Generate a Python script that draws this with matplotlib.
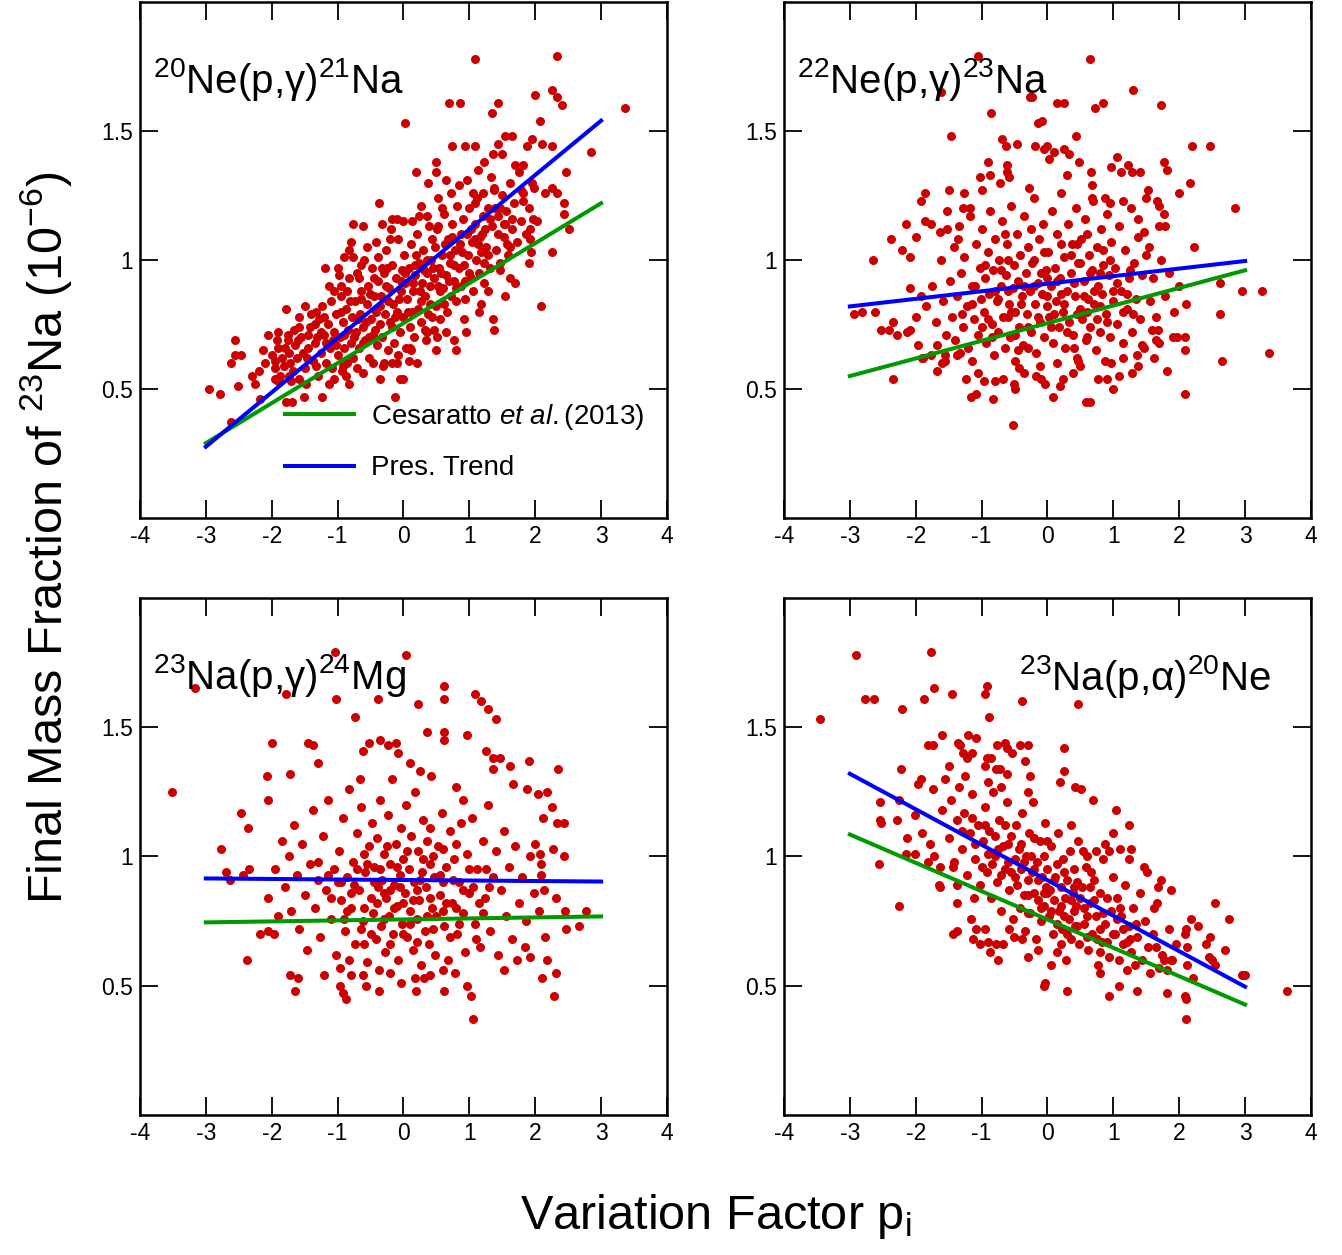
import numpy as np
import matplotlib.pyplot as plt

plt.rcParams['font.family'] = ['Liberation Sans', 'DejaVu Sans']
plt.rcParams['mathtext.fontset'] = 'custom'
plt.rcParams['mathtext.rm'] = 'Liberation Sans'
plt.rcParams['mathtext.it'] = 'Liberation Sans:italic'
plt.rcParams['mathtext.default'] = 'regular'

# scatter points (variation factor p_i, final X(23Na) in 1e-6)
ne20_pts = [
    (1.08,1.78),(2.33,1.79),(0.03,1.53),(0.69,1.61),(0.86,1.61),(1.43,1.61),(1.34,1.57),(1.99,1.64),(2.26,1.66),(2.33,1.63),
    (2.40,1.60),(3.36,1.59),(2.08,1.54),(2.85,1.42),(2.46,1.34),(2.26,1.03),(2.09,0.82),(2.52,1.12),(2.44,1.22),(2.44,1.18),
    (2.15,1.26),(2.26,1.28),(2.33,1.26),(1.90,0.99),(1.54,0.86),(1.36,0.77),(1.38,0.73),(0.79,0.65),(0.77,0.69),(-0.13,0.47),
    (-0.05,0.54),(0.00,0.54),(-0.36,0.54),(-0.82,0.52),(-1.23,0.47),(-1.51,0.47),(-1.69,0.45),(-1.79,0.45),(-2.18,0.46),(-2.26,0.52),
    (-2.51,0.51),(-2.62,0.37),(-2.95,0.50),(-2.78,0.48),(-2.62,0.60),(-2.56,0.63),(-2.47,0.63),(-2.56,0.69),(-2.05,0.71),(-2.13,0.65),
    (-1.78,0.81),(-1.90,0.72),(-1.19,0.97),(-1.00,0.97),(-0.77,1.14),(-0.62,1.13),(-0.79,1.07),(-0.82,1.04),(-0.37,1.22),(-0.18,1.16),
    (0.19,1.34),(0.49,1.38),(0.49,1.34),(0.37,1.30),(0.52,1.24),(0.74,1.44),(0.93,1.44),(1.08,1.44),(1.54,1.48),(1.64,1.48),
    (1.95,1.47),(1.87,1.44),(2.10,1.45),(2.26,1.44),(1.44,1.45),(1.36,1.41),(1.49,1.41),(1.69,1.37),(1.82,1.37),(1.23,1.38),
    (1.13,1.35),(1.95,1.30),(1.79,1.27),(1.97,1.16),(1.92,1.12),(1.92,1.08),(1.82,1.23),(1.64,1.16),(1.62,1.05),(1.62,0.93),
    (1.69,0.91),(1.46,0.96),(1.28,0.88),(1.18,0.83),(1.15,0.80),(0.95,0.72),(0.92,0.77),(0.64,0.72),(0.51,0.70),(0.50,0.65),
    (0.36,0.72),(0.21,0.60),(0.09,0.61),(0.10,0.66),(-0.10,0.60),(-0.18,0.60),(-0.31,0.59),(-0.62,0.56),(-0.87,0.55),(-1.05,0.54),
    (-1.13,0.52),(-0.92,0.59),(-1.33,0.59),(-1.46,0.62),(-1.59,0.54),(-1.74,0.55),(-1.95,0.54),(-1.90,0.53),(-1.95,0.61),
    (-1.92,0.69),(-1.75,0.71),(-1.59,0.74),(-1.49,0.82),(-1.23,0.82),(-1.33,0.80),(-1.05,0.88),(-0.95,0.90),(-0.90,1.01),(-0.77,1.01),
    (-0.64,0.98),(-0.41,1.07),(-0.33,1.14),(-0.21,1.08),(-0.10,1.16),(0.00,1.15),(0.13,1.15),(0.27,1.21),(0.36,1.17),(0.51,1.12),
    (0.59,1.20),(0.64,1.31),(0.72,1.26),(0.85,1.29),(0.96,1.31),(1.05,1.26),(1.08,1.22),(1.21,1.26),(1.33,1.32),(1.38,1.27),
    (1.46,1.20),(1.54,1.14),
    (-1.62,0.62),(-1.55,0.70),(-1.50,0.58),(-1.45,0.66),(-1.42,0.74),(-1.38,0.61),(-1.35,0.68),(-1.30,0.55),(-1.28,0.77),(-1.25,0.64),
    (-1.21,0.71),(-1.18,0.60),(-1.65,0.67),(-1.72,0.60),(-1.80,0.66),(-1.85,0.62),(-1.70,0.53),(-1.58,0.78),(-1.48,0.52),(-1.40,0.79),
    (-1.15,0.75),(-1.12,0.66),(-1.10,0.84),(-1.08,0.58),(-1.05,0.72),(-1.02,0.79),(-1.00,0.63),(-0.97,0.70),(-0.95,0.86),(-0.92,0.76),
    (-0.90,0.66),(-0.88,0.81),(-0.86,0.60),(-0.84,0.73),(-0.82,0.93),(-0.80,0.68),(-0.78,0.78),(-0.76,0.62),(-1.13,0.90),(-0.98,0.94),
    (-1.07,0.69),(-0.93,0.57),
    (-0.74,0.84),(-0.72,0.72),(-0.70,0.95),(-0.68,0.66),(-0.66,0.79),(-0.64,0.88),(-0.62,0.74),(-0.60,1.00),(-0.58,0.69),(-0.56,0.83),
    (-0.54,0.90),(-0.52,0.62),(-0.50,0.77),(-0.48,0.97),(-0.46,0.71),(-0.44,0.86),(-0.42,0.80),(-0.40,0.67),(-0.38,0.92),(-0.36,0.75),
    (-0.71,0.58),(-0.55,1.05),(-0.47,0.60),(-0.39,1.01),
    (-0.34,0.86),(-0.32,0.70),(-0.30,0.95),(-0.28,0.79),(-0.26,1.04),(-0.24,0.65),(-0.22,0.89),(-0.20,0.76),(-0.18,0.98),(-0.16,0.83),
    (-0.14,0.68),(-0.12,0.93),(-0.10,0.80),(-0.08,1.08),(-0.06,0.72),(-0.04,0.88),(-0.02,0.96),(0.00,0.78),(0.02,0.91),(0.04,0.66),
    (-0.29,0.60),(-0.19,1.12),(-0.09,0.63),(0.01,1.02),
    (0.06,0.85),(0.08,0.97),(0.10,0.74),(0.12,1.06),(0.14,0.88),(0.16,0.70),(0.18,0.94),(0.20,1.10),(0.22,0.81),(0.24,0.99),
    (0.26,0.76),(0.28,0.91),(0.30,1.04),(0.32,0.86),(0.34,0.69),(0.36,0.95),(0.38,1.13),(0.40,0.83),(0.42,1.00),(0.44,0.78),
    (0.11,0.65),(0.23,1.17),(0.33,0.73),(0.43,1.08),
    (0.46,0.93),(0.48,1.05),(0.50,0.82),(0.52,1.13),(0.54,0.97),(0.56,0.77),(0.58,1.02),(0.60,0.89),(0.62,1.18),(0.64,0.94),
    (0.66,0.80),(0.68,1.08),(0.70,0.99),(0.72,0.86),(0.74,1.14),(0.76,0.92),(0.78,1.04),(0.80,0.84),(0.82,1.21),(0.84,0.97),
    (0.86,1.06),(0.88,0.90),(0.90,1.16),(0.92,0.98),(0.94,0.85),(0.96,1.10),(0.98,1.02),(1.00,1.20),(1.02,0.93),(1.04,1.07),
    (1.06,0.88),(1.08,1.14),(1.10,1.00),(1.12,1.24),(1.14,0.95),(1.16,1.09),(1.18,1.03),(1.20,1.17),(1.22,0.91),(1.24,1.12),
    (1.26,1.05),(1.29,1.20),(1.32,0.97),(1.35,1.13),(1.38,1.28),(1.41,1.04),(1.44,1.17),(1.47,0.99),(1.50,1.25),(1.53,1.09),
    (1.56,1.19),(1.59,1.02),(1.62,1.30),(1.65,1.12),(1.68,1.22),(1.72,1.07),(1.75,1.34),(1.78,1.15),(1.82,1.26),(1.86,1.10),
    (1.90,1.20),(1.94,1.03),(1.98,1.28),(2.02,1.15),
    (-2.00,0.63),(-1.95,0.58),(-1.90,0.66),(-1.88,0.55),(-1.82,0.59),(-1.76,0.69),(-1.74,0.64),(-1.68,0.57),(-1.66,0.73),(-1.60,0.69),
    (-2.10,0.60),(-2.20,0.57),(-2.30,0.55),
    (-0.95,0.80),(-0.85,0.88),(-0.75,0.70),(-0.65,0.85),(-0.57,0.76),(-0.45,0.93),(-0.35,0.82),(-0.27,0.90),(-0.17,0.74),(-0.07,0.85),
    (0.03,0.95),(0.13,0.80),(0.19,1.02),(0.27,0.84),(0.35,1.00),(0.41,0.90),(0.47,0.73),(0.55,0.88),(0.63,1.06),(0.69,0.92),
    (0.77,0.98),(0.87,1.10),(0.93,0.92),(1.03,1.12),(1.13,1.06),(1.23,0.99),(1.31,1.16),(1.43,1.10),(-1.25,0.72),(-1.35,0.75),
    (-1.45,0.71),(-1.17,0.68),(-0.67,0.93),(0.57,0.95),(0.73,1.09),(-0.25,0.97),(0.15,0.91),(0.31,0.96),(-0.53,0.70),(1.52,1.14),
    (-1.52,0.64),(-1.32,0.70),(-1.20,0.78),(-1.03,0.67),(-0.91,0.71),(-0.81,0.84),(-0.69,0.77),(-0.61,0.68),(-0.51,0.87),(-0.43,0.73),
    (-0.33,0.97),(-0.23,0.84),(-0.13,0.78),(-0.03,0.92),(0.07,0.80),(0.17,0.98),(0.25,0.88),(0.37,0.79),(0.45,0.97),(0.53,0.90),
    (0.61,0.83),(0.71,1.02),(0.79,0.89),(0.89,1.03),(0.99,0.95),(1.09,1.08),(1.19,1.10),(1.29,1.02),(1.39,1.20),(1.57,1.06),
]

ne22_pts = [
    (-1.05,1.79),(0.65,1.78),(-1.62,1.65),(-0.23,1.63),(-0.26,1.63),(0.14,1.61),(0.25,1.61),(0.85,1.61),(0.72,1.59),(1.30,1.66),
    (1.72,1.60),(-0.86,1.57),(-0.14,1.53),(-0.08,1.54),(-1.46,1.48),(0.43,1.48),(-0.69,1.47),(-0.63,1.44),(-0.46,1.45),(-0.19,1.44),
    (0.00,1.44),(-0.05,1.43),(0.10,1.42),(0.03,1.39),(0.25,1.43),(0.33,1.41),(0.48,1.38),(2.19,1.44),(2.47,1.44),(1.77,1.38),
    (1.81,1.35),(2.16,1.30),(1.99,1.26),(2.85,1.20),(2.22,1.05),(2.62,0.91),(2.96,0.88),(3.26,0.88),(2.62,0.79),(3.37,0.64),
    (2.65,0.61),(2.08,0.48),(1.81,0.57),(-0.52,0.36),(0.59,0.45),(0.64,0.45),(0.09,0.47),(-0.82,0.46),(-1.16,0.47),(-1.08,0.48),
    (-2.35,0.54),(-2.65,1.00),(-2.93,0.79),(-2.82,0.80),(-2.62,0.80),(-2.52,0.73),(-2.41,0.73),(-2.35,0.76),(-2.28,0.71),(-2.37,1.08),
    (-2.21,1.04),(-2.15,1.14),(-2.08,1.01),(-2.00,1.09),(-1.92,1.23),(-1.86,1.26),(-1.86,1.15),(-1.77,1.14),(-1.92,0.86),(-2.09,0.89),
    (-2.00,0.78),(-2.13,0.72),(-2.08,0.73),(-1.96,0.67),(-1.90,0.62),(-1.67,0.57),
    (-1.50,1.27),(-1.26,1.26),(-1.03,1.32),(-0.87,1.33),(-0.91,1.38),(-0.72,1.30),(-0.61,1.34),(-0.58,1.32),(-0.61,1.37),(-0.99,1.27),
    (-1.28,1.20),(-1.18,1.20),(-1.52,1.19),(-1.63,1.11),(-1.52,1.12),(-1.36,1.08),(0.97,1.36),(1.05,1.40),(1.12,1.34),(1.22,1.37),
    (1.28,1.34),(1.40,1.34),(1.53,1.27),(1.49,1.24),(1.66,1.23),(1.69,1.21),(1.77,1.18),(1.70,1.13),(1.78,1.13),(1.54,1.05),
    (1.38,1.16),(1.46,1.11),(1.14,1.23),(0.95,1.22),(0.68,1.29),(0.68,1.24),(0.87,1.24),(0.66,1.34),
    (1.90,0.70),(1.96,0.70),(2.08,0.70),(1.64,0.69),(1.69,0.68),(1.59,0.73),(1.67,0.73),(2.08,0.65),(1.62,0.62),(1.44,0.67),
    (1.36,0.63),(1.38,0.59),(1.28,0.56),(1.15,0.62),(1.08,0.55),(0.99,0.50),(0.96,0.60),(0.77,0.54),(0.90,0.54),(0.46,0.61),
    (0.50,0.59),(0.38,0.56),(0.23,0.54),(0.19,0.51),(-0.04,0.52),(-0.10,0.54),(-0.18,0.55),(-0.36,0.56),(-0.51,0.52),(-0.49,0.50),
    (-0.67,0.54),(-0.79,0.53),(-0.97,0.53),(-1.06,0.56),(-1.23,0.54),(-1.15,0.61),(-1.33,0.64),(-1.37,0.63),(-1.56,0.61),(-1.60,0.60),
    (-1.77,0.63),(-1.89,0.62),(-1.67,0.67),(-1.54,0.71),
    (-1.48,0.92),(-1.45,0.78),(-1.42,1.05),(-1.40,0.69),(-1.37,0.86),(-1.34,1.13),(-1.31,0.95),(-1.28,0.74),(-1.26,1.01),(-1.22,0.82),
    (-1.20,0.66),(-1.17,1.17),(-1.14,0.90),(-1.11,0.77),(-1.08,1.06),(-1.05,0.71),(-1.03,0.97),(-1.01,0.85),(-1.58,0.84),(-1.62,1.00),
    (-1.70,0.76),(-1.75,0.90),(-1.84,0.82),(-1.55,0.63),
    (-0.99,1.12),(-0.97,0.80),(-0.95,0.93),(-0.93,0.68),(-0.91,1.03),(-0.89,0.87),(-0.87,1.19),(-0.85,0.75),(-0.83,0.96),(-0.81,0.63),
    (-0.79,1.08),(-0.77,0.84),(-0.75,0.72),(-0.73,1.00),(-0.71,0.90),(-0.69,1.15),(-0.67,0.78),(-0.65,0.66),(-0.63,0.94),(-0.61,1.06),
    (-0.59,0.83),(-0.57,0.70),(-0.55,1.21),(-0.53,0.89),(-0.51,0.98),(-0.50,0.61),
    (-0.49,0.80),(-0.47,1.10),(-0.45,0.92),(-0.43,0.74),(-0.41,1.02),(-0.39,0.86),(-0.37,0.67),(-0.35,1.17),(-0.33,0.95),(-0.31,0.79),
    (-0.29,1.05),(-0.27,0.88),(-0.25,0.72),(-0.23,0.99),(-0.21,1.24),(-0.19,0.83),(-0.17,0.64),(-0.15,0.91),(-0.13,1.08),(-0.11,0.76),
    (-0.09,0.87),(-0.07,1.14),(-0.05,0.70),(-0.03,0.96),(-0.01,0.82),(-0.44,0.58),(-0.28,1.28),(-0.12,0.59),
    (0.01,1.03),(0.03,0.78),(0.05,0.90),(0.07,1.19),(0.09,0.68),(0.11,0.97),(0.13,0.84),(0.15,1.10),(0.17,0.74),(0.19,0.93),
    (0.21,1.26),(0.23,0.80),(0.25,1.01),(0.27,0.66),(0.29,0.88),(0.31,1.14),(0.33,0.76),(0.35,0.95),(0.37,1.06),(0.39,0.71),
    (0.41,0.86),(0.43,1.20),(0.45,0.62),(0.47,0.99),(0.49,0.81),(0.14,0.60),(0.30,1.33),
    (0.51,1.08),(0.53,0.77),(0.55,0.92),(0.57,1.16),(0.59,0.69),(0.61,0.85),(0.63,1.02),(0.65,0.74),(0.67,0.96),(0.69,1.23),
    (0.71,0.83),(0.73,0.65),(0.75,1.05),(0.77,0.90),(0.79,0.72),(0.81,1.12),(0.83,0.87),(0.85,0.98),(0.87,0.61),(0.89,0.79),
    (0.91,1.18),(0.93,0.94),(0.95,0.70),(0.97,1.07),(0.99,0.84),
    (1.02,0.97),(1.05,0.75),(1.08,1.13),(1.11,0.88),(1.14,0.68),(1.17,1.04),(1.20,0.81),(1.23,0.93),(1.26,1.20),(1.29,0.72),
    (1.32,0.99),(1.35,0.85),(1.38,1.09),(1.41,0.77),(1.44,0.94),(1.47,0.66),(1.50,1.02),(1.55,0.84),(1.60,0.93),(1.65,0.78),
    (1.72,1.00),(1.78,0.86),(1.85,0.95),(1.92,0.80),(2.00,0.90),(2.10,0.83),
    (-0.80,0.88),(-0.60,0.78),(-0.40,0.83),(-0.20,0.90),(0.00,0.86),(0.20,0.87),(0.40,0.91),(0.60,0.80),(0.80,0.95),(1.00,0.88),
    (-0.70,0.96),(-0.30,0.74),(0.10,0.79),(0.50,0.99),(0.90,0.76),(-1.10,0.90),(-0.50,0.71),(0.30,0.72),(0.70,0.88),(1.20,0.87),
    (-0.90,0.77),(-0.10,0.95),(0.60,1.10),(-0.60,1.00),(1.30,0.79),(-1.30,0.79),(0.95,1.00),(-0.25,1.12),(0.45,1.06),(-0.45,0.65),
    (-1.15,0.83),(-0.95,0.98),(-0.85,0.70),(-0.75,0.85),(-0.65,1.10),(-0.55,0.80),(-0.35,0.90),(-0.15,0.78),(-0.05,1.03),(0.05,0.74),
    (0.15,0.92),(0.25,0.83),(0.35,1.02),(0.45,0.79),(0.55,0.86),(0.65,0.95),(0.75,0.77),(0.85,1.04),(1.05,0.91),(1.15,0.80),
    (-0.20,1.00),(0.40,0.66),(-0.60,0.88),(0.20,1.06),(0.80,0.82),(-1.00,0.74),(1.25,0.96),(-0.30,0.66),(0.60,0.70),(0.00,0.93),
]

na23pg_pts = [
    (-3.51,1.25),(-3.17,1.65),(-1.78,1.63),(-1.04,1.79),(0.04,1.78),(-1.02,1.61),(-0.38,1.61),(0.22,1.59),(-0.73,1.54),(0.61,1.66),
    (0.61,1.61),(1.09,1.63),(1.18,1.60),(1.28,1.57),(1.41,1.53),(-2.00,1.44),(-1.45,1.44),(-1.38,1.43),(-1.30,1.36),(0.35,1.48),
    (0.61,1.48),(0.61,1.45),(0.96,1.47),(-0.35,1.45),(-0.23,1.43),(-0.12,1.44),(-0.08,1.40),(-0.52,1.44),(-0.61,1.41),(-2.07,1.31),
    (-1.73,1.32),(-2.05,1.22),(-2.47,1.17),(-2.36,1.11),(-2.77,1.03),(-2.69,0.94),(-2.63,0.91),(-2.44,0.93),(-2.34,0.95),(-2.38,0.60),
    (-2.18,0.70),(-2.06,0.71),(-1.96,0.70),(1.26,1.41),(1.36,1.38),(1.46,1.38),(1.36,1.34),(1.62,1.35),(1.90,1.37),(1.66,1.28),
    (1.88,1.26),(2.04,1.24),(2.18,1.25),(2.35,1.34),(2.26,1.19),(2.12,1.15),(2.33,1.13),(2.44,1.13),(2.27,1.03),(2.44,1.00),
    (1.99,1.05),(2.08,1.01),(2.09,0.97),(2.09,0.93),(2.14,0.87),(2.32,0.84),(2.45,0.79),(2.77,0.79),(2.47,0.72),(2.66,0.73),
    (2.15,0.69),(1.92,0.61),(2.18,0.60),(2.11,0.53),(2.31,0.55),(2.28,0.46),(1.05,0.37),(1.03,0.46),(0.97,0.50),(0.62,0.48),
    (0.19,0.48),(-0.37,0.48),(-0.57,0.50),(-0.96,0.50),(-0.92,0.47),(-0.88,0.45),(-1.65,0.48),(-1.72,0.54),(-1.60,0.53),(-1.21,0.54),
    (-0.79,0.54),(-0.62,0.54),(-0.04,0.51),(0.18,0.53),(0.31,0.53),(0.40,0.54),(1.53,0.56),(1.85,0.65),(1.73,0.60),
    (-1.80,0.88),(-1.74,1.00),(-1.70,0.79),(-1.66,1.12),(-1.62,0.93),(-1.58,0.72),(-1.54,1.05),(-1.50,0.85),(-1.46,0.64),(-1.42,0.97),
    (-1.38,1.18),(-1.34,0.80),(-1.30,0.91),(-1.26,0.69),(-1.22,1.08),(-1.18,0.87),(-1.14,1.22),(-1.10,0.76),(-1.06,0.95),(-1.02,0.62),
    (-1.90,0.77),(-1.95,0.95),(-2.05,0.84),(-1.85,1.06),
    (-0.98,1.02),(-0.95,0.83),(-0.92,1.15),(-0.89,0.71),(-0.86,0.92),(-0.83,1.26),(-0.80,0.80),(-0.77,0.98),(-0.74,0.66),(-0.71,1.09),
    (-0.68,0.87),(-0.65,1.19),(-0.62,0.75),(-0.59,0.94),(-0.56,0.59),(-0.53,1.04),(-0.50,0.84),(-0.97,0.57),(-0.82,0.60),(-0.66,1.30),
    (-0.48,1.13),(-0.46,0.78),(-0.44,0.96),(-0.42,0.68),(-0.40,1.07),(-0.38,0.88),(-0.36,1.22),(-0.34,0.73),(-0.32,0.91),(-0.30,1.01),
    (-0.28,0.63),(-0.26,0.84),(-0.24,1.16),(-0.22,0.77),(-0.20,0.97),(-0.18,1.30),(-0.16,0.70),(-0.14,0.89),(-0.12,1.05),(-0.10,0.81),
    (-0.08,0.60),(-0.06,0.93),(-0.04,1.11),(-0.02,0.74),(-0.37,0.56),(-0.20,0.55),
    (0.00,0.99),(0.02,0.86),(0.04,1.20),(0.06,0.69),(0.08,0.95),(0.10,0.79),(0.12,1.08),(0.14,0.64),(0.16,0.90),(0.18,1.25),
    (0.20,0.76),(0.22,1.02),(0.24,0.83),(0.26,0.58),(0.28,0.94),(0.30,1.14),(0.32,0.71),(0.34,0.88),(0.36,1.06),(0.38,0.66),
    (0.40,0.97),(0.42,1.31),(0.44,0.80),(0.46,0.92),(0.48,0.62),(0.10,1.36),(0.25,1.33),
    (0.52,1.04),(0.55,0.85),(0.58,1.17),(0.61,0.73),(0.64,0.96),(0.67,0.60),(0.70,1.10),(0.73,0.82),(0.76,0.99),(0.79,1.27),
    (0.82,0.70),(0.85,0.90),(0.88,1.13),(0.91,0.78),(0.94,0.63),(0.97,1.01),(1.00,0.86),(0.60,0.56),(0.78,0.55),(0.90,1.22),
    (1.04,1.15),(1.08,0.74),(1.12,0.95),(1.16,0.65),(1.20,1.06),(1.24,0.84),(1.28,1.20),(1.32,0.71),(1.36,0.92),(1.40,1.02),
    (1.44,0.62),(1.48,0.87),(1.52,1.10),(1.56,0.77),(1.60,0.96),(1.65,0.68),(1.70,1.04),(1.75,0.82),(1.80,0.92),(1.86,0.75),
    (1.92,1.00),(1.98,0.86),(2.05,0.79),
    (-0.80,0.86),(-0.60,0.80),(-0.40,0.82),(-0.20,0.87),(0.00,0.82),(0.20,0.87),(0.40,0.84),(0.60,0.90),(0.80,0.80),(1.00,0.95),
    (-0.70,0.95),(-0.30,0.76),(0.10,0.74),(0.50,0.77),(0.90,0.87),(-1.10,0.84),(-0.50,0.70),(0.30,0.99),(0.70,0.69),(1.20,0.78),
    (-0.90,0.76),(-0.10,0.96),(0.60,1.03),(-0.60,1.01),(1.30,0.88),(-1.30,0.98),(1.10,0.68),(-0.25,1.04),(0.45,0.72),(-0.45,0.90),
    (-1.15,0.93),(-0.95,0.90),(-0.85,0.79),(-0.75,0.89),(-0.65,0.72),(-0.55,0.97),(-0.35,0.95),(-0.15,0.80),(-0.05,0.88),(0.05,1.02),
    (0.15,0.83),(0.25,0.91),(0.35,0.77),(0.45,1.00),(0.55,0.93),(0.65,0.82),(0.75,0.91),(0.85,0.74),(1.05,0.88),(1.15,0.82),
    (-0.20,0.66),(0.40,1.11),(-0.60,0.66),(0.20,0.67),(0.80,1.05),(-1.00,0.90),(1.25,0.95),(-0.30,0.86),(0.60,0.79),(0.00,0.70),
]

na23pa_pts = [
    (-3.45,1.53),(-2.91,1.78),(-1.77,1.79),(-2.77,1.61),(-2.63,1.61),(-2.21,1.57),(-1.87,1.61),(-1.72,1.65),(-1.45,1.63),(-0.95,1.63),
    (-0.92,1.66),(-0.89,1.54),(-0.38,1.60),(0.47,1.59),(-1.60,1.47),(-1.21,1.47),(-1.09,1.46),(-1.82,1.43),(-1.74,1.43),(-1.36,1.44),
    (-1.33,1.43),(-1.28,1.40),(-1.15,1.40),(-1.22,1.38),(-0.77,1.43),(-0.64,1.44),(-0.62,1.42),(-0.42,1.43),(-0.30,1.43),(-0.54,1.40),
    (-0.92,1.38),(-0.86,1.38),(-0.95,1.35),(-0.78,1.34),(-0.72,1.34),(-0.34,1.37),(-0.27,1.31),(-0.62,1.32),(0.25,1.42),(0.25,1.33),
    (0.19,1.29),(0.42,1.27),(0.51,1.26),(0.69,1.22),(1.04,1.18),(1.24,1.12),(1.00,1.09),(-2.23,1.34),(-1.96,1.28),(-1.92,1.30),
    (-1.74,1.26),(-2.55,1.21),(-2.26,1.22),(-2.55,1.14),(-2.53,1.13),(-2.29,1.14),(-2.01,1.16),(-2.14,1.07),(-2.15,1.01),(-2.01,1.01),
    (-2.56,0.97),(-2.26,0.81),(-1.91,1.09),(-1.79,1.05),(-1.82,0.98),(-1.72,1.00),(-1.63,0.96),(-1.65,0.89),(-1.63,0.88),(-1.44,0.96),
    (-1.37,0.89),(-1.37,0.82),(-1.44,0.70),(-1.37,0.71),(-1.16,0.76),(-1.13,0.68),(-1.03,0.66),(-1.09,0.72),(-0.95,0.72),(-0.91,0.67),
    (-0.87,0.63),(-0.75,0.60),(-0.78,0.66),(-0.67,0.66),(-0.51,0.69),(-0.38,0.68),(-0.30,0.61),(-0.05,0.50),(-0.04,0.51),(0.29,0.48),
    (0.93,0.46),(1.08,0.50),(1.36,0.48),(1.81,0.47),(2.08,0.46),(2.10,0.45),(2.10,0.37),(3.63,0.48),(2.21,0.53),(2.95,0.54),
    (3.00,0.54),(2.54,0.58),(2.49,0.60),(2.45,0.61),(2.46,0.69),(2.41,0.66),(2.69,0.64),(2.28,0.73),(2.54,0.82),(2.76,0.76),
    (2.18,0.76),(2.11,0.72),(2.09,0.70),(1.85,0.72),(2.12,0.65),(1.95,0.66),(2.12,0.58),(1.87,0.60),(1.89,0.60),(1.74,0.62),
    (1.77,0.60),(1.69,0.57),(1.81,0.56),(1.64,0.65),(1.87,0.87),(1.72,0.91),(1.67,0.88),(1.66,0.82),(1.61,0.80),(1.46,0.96),
    (1.51,0.94),(1.26,1.03),(1.23,0.99),(1.10,1.03),(0.94,1.02),(0.87,1.05),(0.74,1.02),(0.54,1.02),(0.66,0.94),
    (-1.60,1.18),(-1.55,1.30),(-1.50,1.07),(-1.46,1.22),(-1.42,0.98),(-1.38,1.14),(-1.34,1.27),(-1.30,1.03),(-1.26,1.17),(-1.22,0.93),
    (-1.18,1.09),(-1.14,1.24),(-1.10,0.99),(-1.06,1.12),(-1.02,0.89),(-1.50,1.35),(-1.25,1.31),(-1.12,0.84),
    (-0.98,1.06),(-0.95,1.19),(-0.92,0.94),(-0.89,1.10),(-0.86,0.84),(-0.83,1.25),(-0.80,1.00),(-0.77,0.90),(-0.74,1.14),(-0.71,0.79),
    (-0.68,1.04),(-0.65,0.95),(-0.62,1.21),(-0.59,0.87),(-0.56,1.08),(-0.53,0.76),(-0.50,0.99),(-0.90,1.29),(-0.70,1.27),(-0.58,0.72),
    (-0.48,1.12),(-0.46,0.89),(-0.44,1.03),(-0.42,0.80),(-0.40,0.95),(-0.38,1.17),(-0.36,0.85),(-0.34,0.71),(-0.32,1.00),(-0.30,0.91),
    (-0.28,1.09),(-0.26,0.78),(-0.24,0.94),(-0.22,1.21),(-0.20,0.86),(-0.18,0.68),(-0.16,0.98),(-0.14,0.83),(-0.12,1.06),(-0.10,0.75),
    (-0.08,0.92),(-0.06,0.81),(-0.04,1.13),(-0.02,0.88),(-0.15,0.64),(-0.30,1.25),
    (0.00,0.95),(0.02,0.77),(0.04,0.87),(0.06,1.04),(0.08,0.70),(0.10,0.83),(0.12,0.92),(0.14,0.63),(0.16,1.09),(0.18,0.79),
    (0.20,0.88),(0.22,0.72),(0.24,0.99),(0.26,0.84),(0.28,0.60),(0.30,0.91),(0.32,0.76),(0.34,1.02),(0.36,0.68),(0.38,0.86),
    (0.40,0.95),(0.42,0.73),(0.44,0.81),(0.46,1.06),(0.48,0.66),(0.05,0.58),(0.35,1.12),
    (0.52,0.88),(0.55,0.74),(0.58,0.96),(0.61,0.64),(0.64,0.82),(0.67,0.70),(0.70,0.91),(0.73,0.77),(0.76,0.58),(0.79,0.86),
    (0.82,0.67),(0.85,0.99),(0.88,0.74),(0.91,0.84),(0.94,0.61),(0.97,0.79),(1.00,0.92),(0.60,1.00),(0.80,0.55),
    (1.03,0.70),(1.06,0.84),(1.09,0.60),(1.12,0.77),(1.15,0.66),(1.18,0.89),(1.21,0.56),(1.24,0.73),(1.27,0.63),(1.30,0.80),
    (1.33,0.58),(1.36,0.69),(1.40,0.86),(1.44,0.60),(1.48,0.75),(1.52,0.65),(1.56,0.55),(1.60,0.70),
    (-0.80,1.08),(-0.60,0.98),(-0.40,1.05),(-0.20,0.95),(0.00,0.86),(0.20,0.81),(0.40,0.79),(0.60,0.77),(0.80,0.72),(1.00,0.70),
    (-0.70,0.93),(-0.30,0.85),(0.10,0.91),(0.50,0.84),(0.90,0.67),(-1.10,1.05),(-0.50,0.92),(0.30,0.70),(0.70,0.83),(1.20,0.67),
    (-0.90,1.01),(-0.10,0.80),(0.15,0.74),(-0.25,1.00),(1.35,0.74),(-1.30,1.10),(1.10,0.80),(0.45,0.90),(-0.05,1.00),(0.25,0.94),
    (-1.15,1.15),(-0.95,1.12),(-0.85,0.97),(-0.75,1.03),(-0.65,1.12),(-0.55,0.94),(-0.35,0.98),(-0.15,0.91),(-0.05,0.86),(0.05,0.79),
    (0.15,0.97),(0.25,0.77),(0.35,0.83),(0.45,0.73),(0.55,0.80),(0.65,0.88),(0.75,0.68),(0.85,0.78),(1.05,0.76),(1.15,0.72),
    (-0.20,1.07),(0.40,0.88),(-0.60,1.05),(0.20,0.66),(0.80,0.63),(-1.00,0.96),(1.25,0.68),(-0.30,0.78),(0.60,0.69),(0.00,1.06),
]

# straight trend lines at p = -3 and p = +3
line_x = [-3, 3]
cesaratto_y = [[0.29, 1.22], [0.55, 0.96], [0.745, 0.768], [1.085, 0.427]]
trend_y = [[0.276, 1.54], [0.82, 0.996], [0.915, 0.903], [1.32, 0.496]]

titles = ['$^{20}$Ne(p,γ)$^{21}$Na', '$^{22}$Ne(p,γ)$^{23}$Na',
          '$^{23}$Na(p,γ)$^{24}$Mg', '$^{23}$Na(p,α)$^{20}$Ne']
all_pts = [ne20_pts, ne22_pts, na23pg_pts, na23pa_pts]

xticks = [-4, -3, -2, -1, 0, 1, 2, 3, 4]
xticklabels = ['-4', '-3', '-2', '-1', '0', '1', '2', '3', '4']
yticks = [0.5, 1.0, 1.5]
yticklabels = ['0.5', '1', '1.5']

fig = plt.figure(figsize=(13.42, 12.55), dpi=100)
boxes = [[0.1043, 0.5873, 0.3927, 0.4111], [0.5842, 0.5873, 0.3927, 0.4111],
         [0.1043, 0.1116, 0.3927, 0.4119], [0.5842, 0.1116, 0.3927, 0.4119]]

for i in range(4):
    ax = fig.add_axes(boxes[i])
    pts = np.array(all_pts[i])
    ax.scatter(pts[:, 0], pts[:, 1], s=42, color='#cc0000', linewidths=0, zorder=2)
    ax.plot(line_x, cesaratto_y[i], color='#009900', linewidth=2.9, zorder=3,
            label='Cesaratto $\\mathit{et\\ al.}$(2013)')
    ax.plot(line_x, trend_y[i], color='#0000ff', linewidth=2.9, zorder=3, label='Pres. Trend')
    ax.set_xlim(-4, 4)
    ax.set_ylim(0, 2)
    ax.set_xticks(xticks)
    ax.set_xticklabels(xticklabels)
    ax.set_yticks(yticks)
    ax.set_yticklabels(yticklabels)
    ax.tick_params(direction='in', top=True, right=True, length=13, width=1.3,
                   labelsize=16.5, pad=5)
    for sp in ax.spines.values():
        sp.set_linewidth(1.8)
    if i == 3:
        ax.text(0.924, 0.822, titles[i], transform=ax.transAxes, fontsize=29,
                ha='right', va='baseline')
    else:
        ax.text(0.025, 0.824, titles[i], transform=ax.transAxes, fontsize=29,
                ha='left', va='baseline')
    if i == 0:
        ax.legend(loc='upper left', bbox_to_anchor=(0.275, 0.225), frameon=False,
                  fontsize=20, handlelength=2.5, handletextpad=0.6, labelspacing=0.85,
                  borderpad=0, borderaxespad=0)

fig.text(0.034, 0.572, 'Final Mass Fraction of $^{23}$Na (10$^{-6}$)', rotation=90,
         fontsize=35, ha='center', va='center')
fig.text(0.533, 0.021, 'Variation Factor p$_{i}$', fontsize=35, ha='center', va='baseline')

plt.savefig('out.png', dpi=100)
